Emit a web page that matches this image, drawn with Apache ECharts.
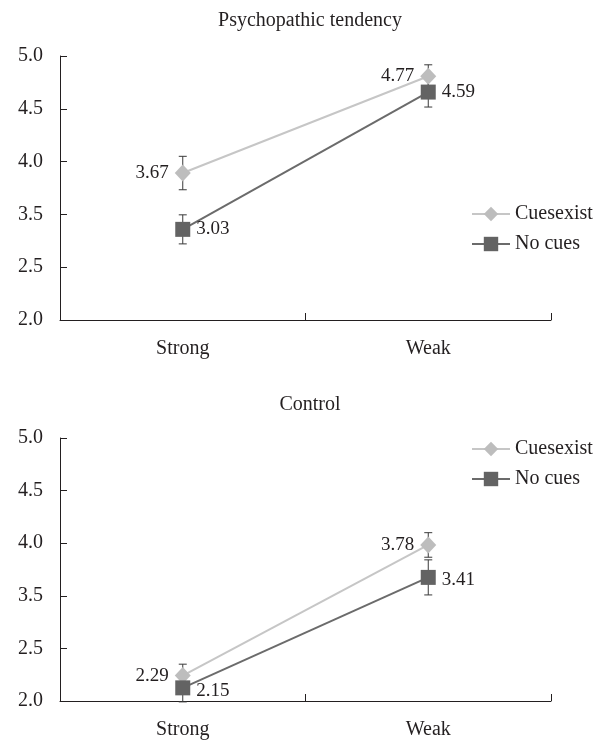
<!DOCTYPE html>
<html>
<head>
<meta charset="utf-8">
<script src="https://cdn.jsdelivr.net/npm/echarts@6/dist/echarts.min.js"></script>
<style>
html,body{margin:0;padding:0;background:#fff;}
#chart{width:612px;height:740px;}
</style>
</head>
<body>
<div id="chart"></div>
<script>
var categories = ['Strong', 'Weak'];
var seriesNames = ['Cuesexist', 'No cues'];
var panelTitles = ['Psychopathic tendency', 'Control'];

// Panel 1: Psychopathic tendency
var psychoCues = [3.67, 4.77];
var psychoNoCues = [3.03, 4.59];
var psychoCuesErr = [0.19, 0.13];
var psychoNoCuesErr = [0.165, 0.17];

// Panel 2: Control
var controlCues = [2.29, 3.78];
var controlNoCues = [2.15, 3.41];
var controlCuesErr = [0.13, 0.14];
var controlNoCuesErr = [0.16, 0.2];

// y axis: tick positions on the value scale and the labels printed at them
var yTickValues = [2.0, 2.6, 3.2, 3.8, 4.4, 5.0];
var yTickLabels = ['2.0', '2.5', '3.5', '4.0', '4.5', '5.0'];

var FONT = 'Liberation Serif';
var TXT = '#231f20';
var AXIS = '#231f20';
var LIGHT = '#bdbdbd';
var LIGHT_LINE = '#c6c6c6';
var DARK = '#636363';
var DARK_LINE = '#6b6b6b';

function errData(vals, errs) {
  return vals.map(function (v, i) { return [i, v - errs[i], v + errs[i]]; });
}

function errRender(params, api) {
  var xi = api.value(0);
  var lo = api.coord([xi, api.value(1)]);
  var hi = api.coord([xi, api.value(2)]);
  var w = 4;
  var st = { stroke: '#3a3a3a', lineWidth: 1 };
  return {
    type: 'group',
    children: [
      { type: 'line', shape: { x1: lo[0], y1: lo[1], x2: hi[0], y2: hi[1] }, style: st },
      { type: 'line', shape: { x1: lo[0] - w, y1: lo[1], x2: lo[0] + w, y2: lo[1] }, style: st },
      { type: 'line', shape: { x1: hi[0] - w, y1: hi[1], x2: hi[0] + w, y2: hi[1] }, style: st }
    ]
  };
}

var grids = [
  { left: 60, right: 61, top: 56, height: 264 },
  { left: 60, right: 61, top: 438, height: 264 }
];

function xAxisFor(i) {
  return {
    type: 'category', gridIndex: i, data: categories, boundaryGap: true,
    axisLine: { lineStyle: { color: AXIS, width: 1 } },
    axisTick: { show: true, inside: true, length: 7, lineStyle: { color: AXIS } },
    axisLabel: { color: TXT, fontFamily: FONT, fontSize: 20, margin: 19 },
    splitLine: { show: false }
  };
}

function yAxisFor(i) {
  return {
    type: 'value', gridIndex: i, min: 2, max: 5,
    axisLine: { show: true, lineStyle: { color: AXIS, width: 1 } },
    axisTick: { show: true, inside: true, length: 7, lineStyle: { color: AXIS }, customValues: yTickValues },
    axisLabel: {
      color: TXT, fontFamily: FONT, fontSize: 20, margin: 17,
      customValues: yTickValues,
      formatter: function (v) {
        for (var k = 0; k < yTickValues.length; k++) {
          if (Math.abs(yTickValues[k] - v) < 1e-6) return yTickLabels[k];
        }
        return '';
      }
    },
    splitLine: { show: false }
  };
}

function lineSeries(name, gi, data, isCues, labelPos, labelOffset) {
  return {
    name: name, type: 'line', xAxisIndex: gi, yAxisIndex: gi, z: 3,
    data: data,
    symbol: isCues ? 'diamond' : 'rect',
    symbolSize: isCues ? [16, 17] : [15, 15],
    itemStyle: { color: isCues ? LIGHT : DARK },
    lineStyle: { color: isCues ? LIGHT_LINE : DARK_LINE, width: 2 },
    label: {
      show: true, position: labelPos, distance: 6, offset: labelOffset || [0, 0],
      color: TXT, fontFamily: FONT, fontSize: 19,
      formatter: function (p) { return p.value.toFixed(2); }
    },
    emphasis: { disabled: true },
    animation: false
  };
}

function errSeries(gi, vals, errs) {
  return {
    type: 'custom', name: 'err', xAxisIndex: gi, yAxisIndex: gi, z: 1,
    renderItem: errRender, data: errData(vals, errs),
    encode: { x: 0, y: [1, 2] }, silent: true, animation: false
  };
}

function legendFor(top) {
  return {
    data: seriesNames, orient: 'vertical', left: 466, top: top,
    itemWidth: 38, itemHeight: 18, itemGap: 10,
    textStyle: { color: TXT, fontFamily: FONT, fontSize: 20 },
    selectedMode: false
  };
}

var option = {
  backgroundColor: '#ffffff',
  animation: false,
  title: [
    { text: panelTitles[0], left: 305, top: 6, textAlign: 'center',
      textStyle: { color: TXT, fontFamily: FONT, fontSize: 20, fontWeight: 'normal' } },
    { text: panelTitles[1], left: 305, top: 390, textAlign: 'center',
      textStyle: { color: TXT, fontFamily: FONT, fontSize: 20, fontWeight: 'normal' } }
  ],
  legend: [legendFor(199), legendFor(434)],
  grid: grids,
  xAxis: [xAxisFor(0), xAxisFor(1)],
  yAxis: [yAxisFor(0), yAxisFor(1)],
  series: [
    errSeries(0, psychoCues, psychoCuesErr),
    errSeries(0, psychoNoCues, psychoNoCuesErr),
    lineSeries(seriesNames[0], 0, psychoCues, true, 'left'),
    lineSeries(seriesNames[1], 0, psychoNoCues, false, 'right'),
    errSeries(1, controlCues, controlCuesErr),
    errSeries(1, controlNoCues, controlNoCuesErr),
    lineSeries(seriesNames[0], 1, controlCues, true, 'left'),
    lineSeries(seriesNames[1], 1, controlNoCues, false, 'right', [0, 3])
  ]
};

var chart = echarts.init(document.getElementById('chart'), null, { renderer: 'canvas' });
chart.setOption(option);
</script>
</body>
</html>
